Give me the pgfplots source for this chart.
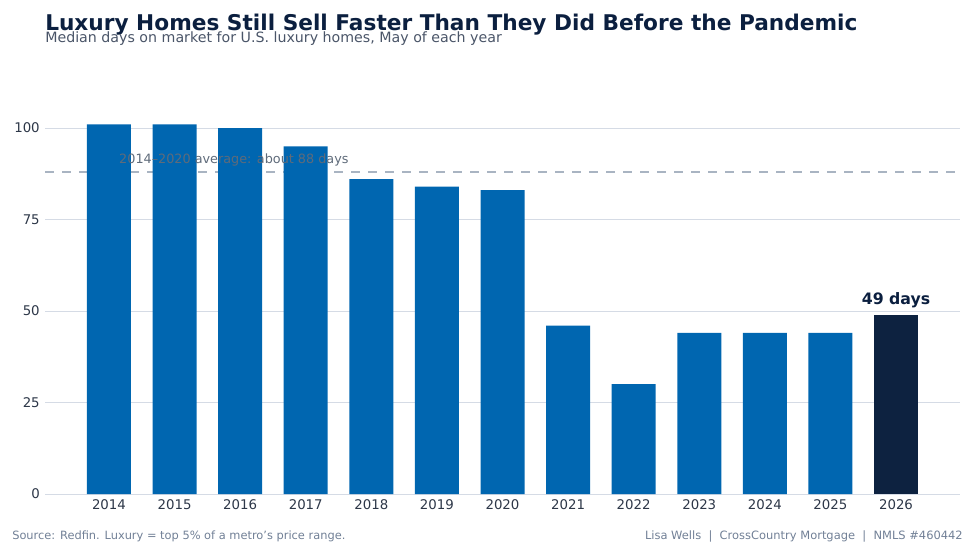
\documentclass[border=0pt]{standalone}
\usepackage{fontspec}
\setmainfont{DejaVu Sans}
\usepackage{pgfplots}
\pgfplotsset{compat=1.18}
\definecolor{barblue}{HTML}{0066B0}
\definecolor{barnavy}{HTML}{0D2240}
\definecolor{titlecol}{HTML}{0B1F3F}
\definecolor{subcol}{HTML}{4A5568}
\definecolor{avgcol}{HTML}{5F6B7A}
\definecolor{footcol}{HTML}{718096}
\definecolor{gridcol}{HTML}{D5DBE5}
\definecolor{dashcol}{HTML}{A9B4C2}
\definecolor{tickcol}{HTML}{2D3748}
\begin{document}
\begin{tikzpicture}
\path[use as bounding box] (0pt,0pt) rectangle (731.25pt,-409.5pt);
\begin{axis}[
  at={(33.75pt,-370.5pt)}, anchor=south west,
  scale only axis, width=686.25pt, height=301.95pt,
  xmin=-0.9756, xmax=12.9756, ymin=0, ymax=110,
  axis line style={draw=none},
  major tick length=0pt,
  ytick={0,25,50,75,100},
  xtick={0,1,2,3,4,5,6,7,8,9,10,11,12},
  xticklabels={2014,2015,2016,2017,2018,2019,2020,2021,2022,2023,2024,2025,2026},
  ymajorgrids,
  grid style={draw=gridcol, line width=0.75pt},
  /pgf/number format/assume math mode=true,
  yticklabel style={font=\fontsize{10}{12}\selectfont, text=tickcol, inner sep=0pt, xshift=-3.75pt},
  xticklabel style={font=\fontsize{10}{12}\selectfont, text=tickcol, inner sep=0pt, yshift=-4pt},
  clip=false,
]
\addplot[draw=dashcol, line width=1.1pt, dash pattern=on 6.75pt off 6pt] coordinates {(-0.9756,88) (12.9756,88)};
\addplot[ybar, bar width=33pt, bar shift=0pt, fill=barblue, draw=none] coordinates {
(0,101) (1,101) (2,100) (3,95) (4,86) (5,84) (6,83) (7,46) (8,30) (9,44) (10,44) (11,44)};
\addplot[ybar, bar width=33pt, bar shift=0pt, fill=barnavy, draw=none] coordinates {(12,49)};
\node[anchor=base west, inner sep=0pt, text=avgcol, font=\fontsize{9.6}{11}\selectfont] at (axis cs:0.152,90.4) {2014–2020 average: about 88 days};
\node[anchor=base, inner sep=0pt, text=titlecol, font=\bfseries\fontsize{11.8}{14}\selectfont, yshift=7.5pt] at (axis cs:12,49) {49 days};
\end{axis}
\node[anchor=base west, inner sep=0pt, text=titlecol, font=\bfseries\fontsize{16.25}{20}\selectfont] at (33.75pt,-23.25pt) {Luxury Homes Still Sell Faster Than They Did Before the Pandemic};
\node[anchor=base west, inner sep=0pt, text=subcol, font=\fontsize{10.65}{13}\selectfont] at (33.75pt,-31.5pt) {Median days on market for U.S. luxury homes, May of each year};
\node[anchor=base west, inner sep=0pt, text=footcol, font=\fontsize{8.55}{10}\selectfont] at (9pt,-404.25pt) {Source: Redfin. Luxury = top 5\% of a metro's price range.};
\node[anchor=base east, inner sep=0pt, text=footcol, font=\fontsize{8.6}{10}\selectfont] at (722.25pt,-404.25pt) {Lisa Wells \ | \ CrossCountry Mortgage \ | \ NMLS \#460442};
\end{tikzpicture}
\end{document}
